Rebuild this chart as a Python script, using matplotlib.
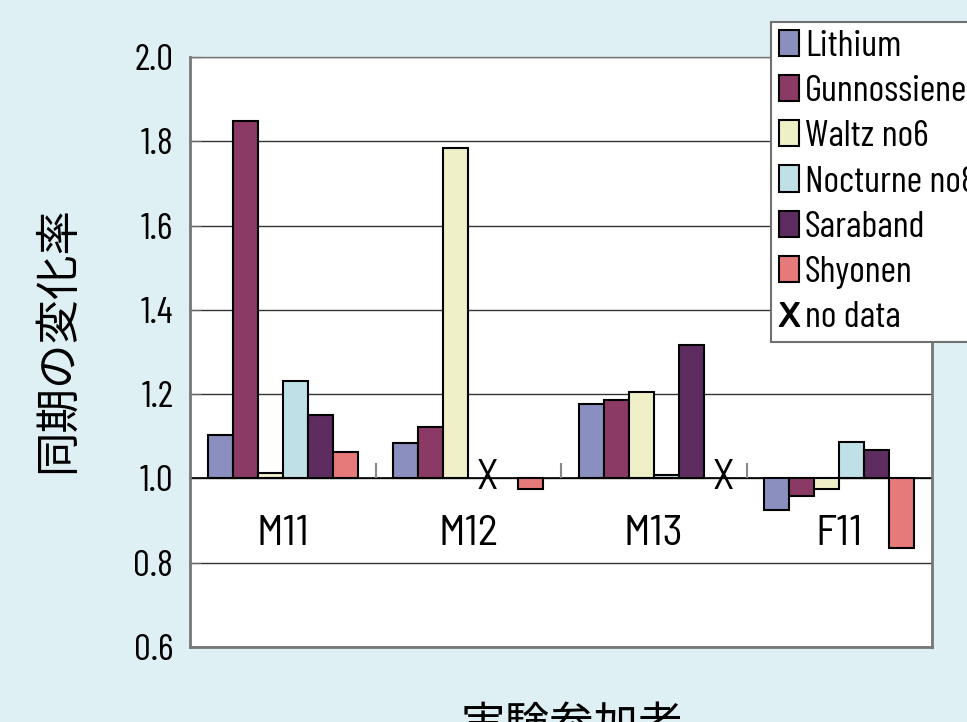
import numpy as np
import matplotlib.pyplot as plt
from matplotlib.lines import Line2D

# datos (cambio relativo, base = 1.0)
participants = ["M11", "M12", "M13", "F11"]
songs = ["Lithium", "Gunnossiene", "Waltz no6", "Nocturne no8", "Saraband", "Shyonen"]
lithium = [1.104, 1.085, 1.176, 0.926]
gunnossiene = [1.847, 1.123, 1.187, 0.958]
waltz = [1.014, 1.783, 1.206, 0.976]
nocturne = [1.230, np.nan, 1.009, 1.086]
saraband = [1.150, np.nan, 1.316, 1.068]
shyonen = [1.062, 0.976, np.nan, 0.836]
no_data = [(1, 3), (2, 5)]  # (participante, cancion) sin datos -> "X"
yticks = [0.6, 0.8, 1.0, 1.2, 1.4, 1.6, 1.8, 2.0]

colors = ["#8a8fc0", "#8b3a66", "#f0f0c8", "#c0e0e8", "#5e2c60", "#e67a7a"]
latin = ["Barlow Condensed", "PT Sans Narrow", "Roboto Condensed", "DejaVu Sans"]
semi = ["Barlow Semi Condensed", "Barlow Condensed", "PT Sans Narrow", "DejaVu Sans"]
cjk = ["Noto Sans CJK JP", "DejaVu Sans"]
bg = "#dff0f4"

fig = plt.figure(figsize=(9.67, 7.22), dpi=100, facecolor=bg)
ax = fig.add_axes([190 / 967, 1 - 647 / 722, 742 / 967, 590 / 722])
ax.set_facecolor("white")

x = np.arange(len(participants))
w = 0.135
series = [lithium, gunnossiene, waltz, nocturne, saraband, shyonen]
handles = []
for i, vals in enumerate(series):
    b = ax.bar(x + (i - 2.5) * w, np.array(vals) - 1.0, bottom=1.0, width=w,
               color=colors[i], edgecolor="black", linewidth=1.5, label=songs[i], zorder=3)
    handles.append(b)

for p, s in no_data:
    ax.text(x[p] + (s - 2.5) * w + 0.25 * w, 1.0, "X", ha="center", va="center",
            fontsize=30, family=semi, zorder=4)

ax.set_xlim(-0.5, len(participants) - 0.5)
ax.set_ylim(0.6, 2.0)
ax.set_yticks(yticks)
ax.set_yticklabels([f"{t:.1f}" for t in yticks], family=latin, fontsize=27)
ax.set_xticks([])
ax.yaxis.grid(True, color="#333333", linewidth=1)
ax.set_axisbelow(True)
ax.tick_params(axis="y", direction="in", length=8, color="#666666", pad=12)

ax.axhline(1.0, color="black", linewidth=1.2, zorder=2)
ax.vlines(x[:-1] + 0.5, 1.0, 1.036, color="#888888", linewidth=1.5, zorder=2)

for xi, name in zip(x, participants):
    ax.text(xi, 0.867, name, ha="center", va="center", fontsize=31, family=semi)

for side in ["left", "bottom", "right", "top"]:
    ax.spines[side].set_color("#777777")
    ax.spines[side].set_linewidth(2)
ax.spines["top"].set_linewidth(1)

fig.text(57 / 967, 1 - 339 / 722, "同期の変化率", rotation=90, ha="center", va="center",
         fontsize=32, family=cjk)
fig.text(572 / 967, 1 - 703 / 722, "実験参加者", ha="center", va="top",
         fontsize=32, family=cjk)

x_handle = Line2D([], [], ls="none", marker=r"$\mathsf{X}$", color="black", markersize=17)
leg = ax.legend(handles + [x_handle], songs + ["no data"], loc="upper left",
                bbox_to_anchor=(771 / 967, 1 - 22 / 722), bbox_transform=fig.transFigure,
                prop={"family": latin, "size": 27}, frameon=True, fancybox=False,
                edgecolor="#707070", framealpha=1, handlelength=0.55, handleheight=0.7,
                handletextpad=0.15, labelspacing=0.32, borderpad=0.2, borderaxespad=0)
leg.get_frame().set_linewidth(1.5)

fig.savefig("out.png", dpi=100, facecolor=bg)
